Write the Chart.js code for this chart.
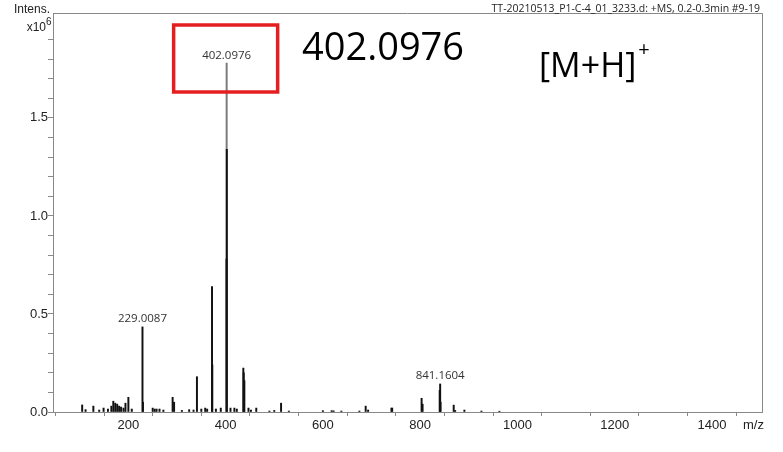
<!DOCTYPE html>
<html>
<head>
<meta charset="utf-8">
<style>
  html, body { margin: 0; padding: 0; background: #fff; }
  #wrap { width: 783px; height: 452px; }
</style>
</head>
<body>
<div id="wrap"><canvas id="spectrum"></canvas></div>
<script src="https://cdn.jsdelivr.net/npm/chart.js"></script>
<script>
  // peak list, intensities in units of 10^6
  const mzValues = [105, 112, 128, 140, 149, 158, 165, 169, 173, 177, 181, 185, 190, 194, 200, 207,
    229.0087, 230.0, 250, 254, 258, 264, 272, 291, 294, 310, 325, 334, 341, 350, 358, 362,
    372.0, 372.6, 380, 390, 402.0976, 402.4, 401.8, 410, 418, 423, 436.4, 437.2, 438.5, 447, 452, 463,
    490, 500, 514, 530, 600, 618, 622, 638, 675, 688, 693, 741, 742.5,
    803, 805, 841.1604, 840.2, 842, 869, 872, 891, 926, 963];
  const intensities = [0.036, 0.012, 0.03, 0.01, 0.02, 0.015, 0.03, 0.055, 0.045, 0.04, 0.03, 0.025, 0.02, 0.045, 0.075, 0.015,
    0.434, 0.05, 0.02, 0.015, 0.015, 0.015, 0.01, 0.075, 0.05, 0.008, 0.012, 0.01, 0.18, 0.015, 0.02, 0.015,
    0.64, 0.24, 0.015, 0.02, 1.78, 1.34, 0.78, 0.02, 0.02, 0.015, 0.224, 0.2, 0.16, 0.02, 0.01, 0.02,
    0.005, 0.008, 0.045, 0.005, 0.007, 0.007, 0.006, 0.005, 0.005, 0.03, 0.01, 0.02, 0.02,
    0.07, 0.04, 0.143, 0.11, 0.05, 0.035, 0.008, 0.01, 0.005, 0.004];
  const labelledPeaks = [229.0087, 402.0976, 841.1604];
  const boxedPeak = 402.0976;
  const xLabels = [200, 400, 600, 800, 1000, 1200, 1400];
  const yLabels = [0.0, 0.5, 1.0, 1.5];
  const titleText = 'TT-20210513_P1-C-4_01_3233.d: +MS, 0.2-0.3min #9-19';
  const bigLabel = '402.0976';
  const ionLabel = '[M+H]';

  const points = mzValues.map((mz, i) => ({ x: mz, y: intensities[i] }));
  const tickFont = { family: '"Liberation Sans Narrow", "Liberation Sans", Arial', size: 13 };

  // frame, annotations and the instrument texts
  const decor = {
    id: 'decor',
    afterDraw(chart) {
      const ctx = chart.ctx;
      const a = chart.chartArea;
      const xs = chart.scales.x, ys = chart.scales.y;
      ctx.save();
      ctx.strokeStyle = '#888';
      ctx.lineWidth = 1;
      ctx.beginPath();
      ctx.moveTo(a.left, a.top + 0.5);
      ctx.lineTo(a.right + 0.5, a.top + 0.5);
      ctx.lineTo(a.right + 0.5, a.bottom);
      ctx.stroke();

      ctx.fillStyle = '#222';
      ctx.font = '12px ' + tickFont.family;
      ctx.textBaseline = 'middle';
      ctx.textAlign = 'right';
      ctx.fillText('Intens.', 50, 10);
      ctx.fillText('x10', 46, 28);
      ctx.textAlign = 'left';
      ctx.font = '10px ' + tickFont.family;
      ctx.fillText('6', 46, 22);
      ctx.font = '13px ' + tickFont.family;
      ctx.fillText('m/z', 743, 425);

      ctx.font = '10.5px "Open Sans"';
      ctx.textAlign = 'right';
      ctx.fillText(titleText, 760, 9);

      ctx.font = '11.5px "Open Sans"';
      ctx.textAlign = 'center';
      ctx.textBaseline = 'bottom';
      ctx.fillStyle = '#333';
      labelledPeaks.forEach(mz => {
        const i = mzValues.indexOf(mz);
        const px = xs.getPixelForValue(mz);
        const py = ys.getPixelForValue(intensities[i]);
        ctx.fillText(mz.toFixed(4), px, py - 2);
      });

      const bx = xs.getPixelForValue(boxedPeak);
      ctx.strokeStyle = '#e3201f';
      ctx.lineWidth = 3.5;
      ctx.strokeRect(bx - 53, 25, 104, 67);

      ctx.fillStyle = '#000';
      ctx.textAlign = 'left';
      ctx.textBaseline = 'alphabetic';
      ctx.font = '38px "Open Sans"';
      ctx.fillText(bigLabel, 302, 60);
      ctx.font = '34px "Open Sans"';
      ctx.fillText(ionLabel, 539, 77);
      const w = ctx.measureText(ionLabel).width;
      ctx.font = '20px "Open Sans"';
      ctx.fillText('+', 539 + w + 2, 56);
      ctx.restore();
    }
  };

  new Chart(document.getElementById('spectrum'), {
    type: 'bar',
    data: {
      datasets: [{
        data: points,
        backgroundColor: ctx => (ctx.raw && ctx.raw.y > 1.5) ? '#7a7a7a' : '#111',
        barThickness: 1.3,
        grouped: false
      }]
    },
    options: {
      responsive: true,
      maintainAspectRatio: false,
      animation: false,
      layout: { padding: { top: 13, right: 21, left: 0, bottom: 0 } },
      plugins: { legend: { display: false }, tooltip: { enabled: false } },
      scales: {
        x: {
          type: 'linear',
          min: 45,
          max: 1503,
          offset: false,
          grid: { drawOnChartArea: false, drawTicks: true, tickLength: 4, color: '#888' },
          border: { color: '#888', width: 1 },
          ticks: {
            stepSize: 100,
            autoSkip: false,
            maxRotation: 0,
            padding: 2,
            color: '#222',
            font: tickFont,
            callback: v => xLabels.includes(v) ? String(v) : ''
          },
          afterBuildTicks: s => { s.ticks = s.ticks.filter(t => t.value % 100 === 0); },
          afterFit: s => { s.height = 40; }
        },
        y: {
          min: 0,
          max: 2.035,
          grid: { drawOnChartArea: false, drawTicks: true, tickLength: 5, color: '#888' },
          border: { color: '#888', width: 1 },
          ticks: {
            stepSize: 0.1,
            autoSkip: false,
            padding: 0,
            color: '#222',
            font: tickFont,
            callback: v => yLabels.some(l => Math.abs(l - v) < 1e-6) ? v.toFixed(1) : ''
          },
          afterBuildTicks: s => {
            s.ticks = s.ticks.filter(t => Math.abs(t.value * 10 - Math.round(t.value * 10)) < 1e-6);
          },
          afterFit: s => { s.width = 53; }
        }
      }
    },
    plugins: [decor]
  });
</script>
</body>
</html>
